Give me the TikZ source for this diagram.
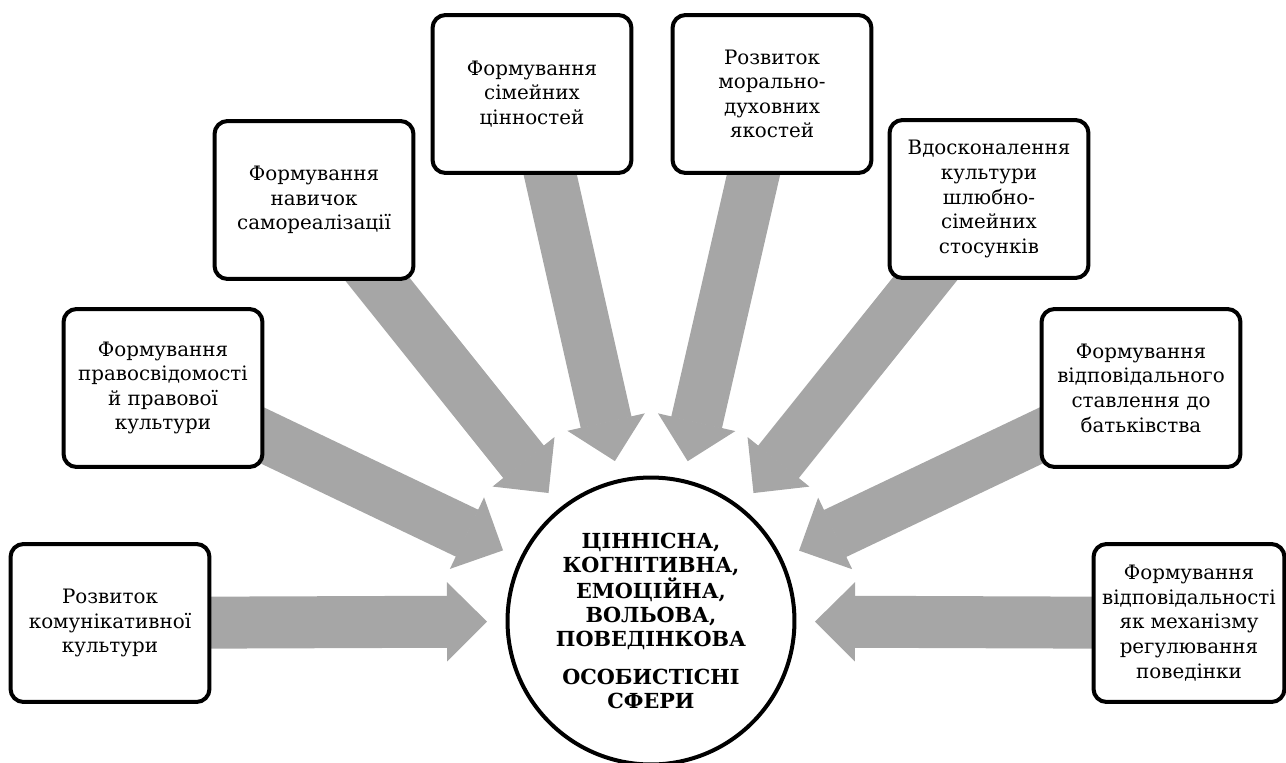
\documentclass[tikz,border=0pt]{standalone}
\usepackage{fontspec}
\setmainfont{DejaVu Serif}
\usetikzlibrary{arrows.meta,calc,backgrounds}

\definecolor{arrowgray}{HTML}{A6A6A6}
\tikzset{
  task/.style={draw=black, line width=0.08cm, rounded corners=0.26cm, fill=white,
    minimum width=3.98cm, minimum height=3.16cm, align=center, inner sep=2pt,
    font=\fontsize{11.3}{14}\selectfont},
  core/.style={circle, draw=black, line width=0.08cm, fill=white, minimum size=5.74cm,
    inner sep=0pt, align=center, font=\fontsize{11.8}{13.6}\selectfont\bfseries},
  flow/.style={draw=arrowgray, line width=1.04cm,
    -{Triangle[length=0.8cm, width=1.58cm, line width=1pt]}}
}
\newcommand{\flowto}[1]{\draw[flow] (#1.center) -- ($(core.center)!3.28cm!(#1.center)$);}

\begin{document}
\begin{tikzpicture}[x=0.02cm, y=-0.02cm]
		%%%%% START %%%%%
		\useasboundingbox (0,0) rectangle (1286,762);
		
		\node[core] (core) at (651,621) {ЦІННІСНА,\\КОГНІТИВНА,\\ЕМОЦІЙНА,\\ВОЛЬОВА,\\ПОВЕДІНКОВА\\[8pt]ОСОБИСТІСНІ\\СФЕРИ};
		
		\node[task] (comm) at (110,623) {Розвиток\\комунікативної\\культури};
		\node[task] (law) at (163,388) {Формування\\правосвідомості\\й правової\\культури};
		\node[task] (self) at (314,200) {Формування\\навичок\\самореалізації};
		\node[task] (family) at (532,94) {Формування\\сімейних\\цінностей};
		
		\node[task] (moral) at (772,94) {Розвиток\\морально-\\духовних\\якостей};
		\node[task] (marriage) at (989,199) {Вдосконалення\\культури\\шлюбно-\\сімейних\\стосунків};
		\node[task] (parent) at (1141,388) {Формування\\відповідального\\ставлення до\\батьківства};
		\node[task, minimum width=3.82cm] (resp) at (1189,623) {Формування\\відповідальності\\як механізму\\регулювання\\поведінки};
		
		\begin{scope}[on background layer]
			\flowto{comm}
			\flowto{law}
			\flowto{self}
			\flowto{family}
			\flowto{moral}
			\flowto{marriage}
			\flowto{parent}
			\flowto{resp}
		\end{scope}
		%%%%% END %%%%%
\end{tikzpicture}
\end{document}
